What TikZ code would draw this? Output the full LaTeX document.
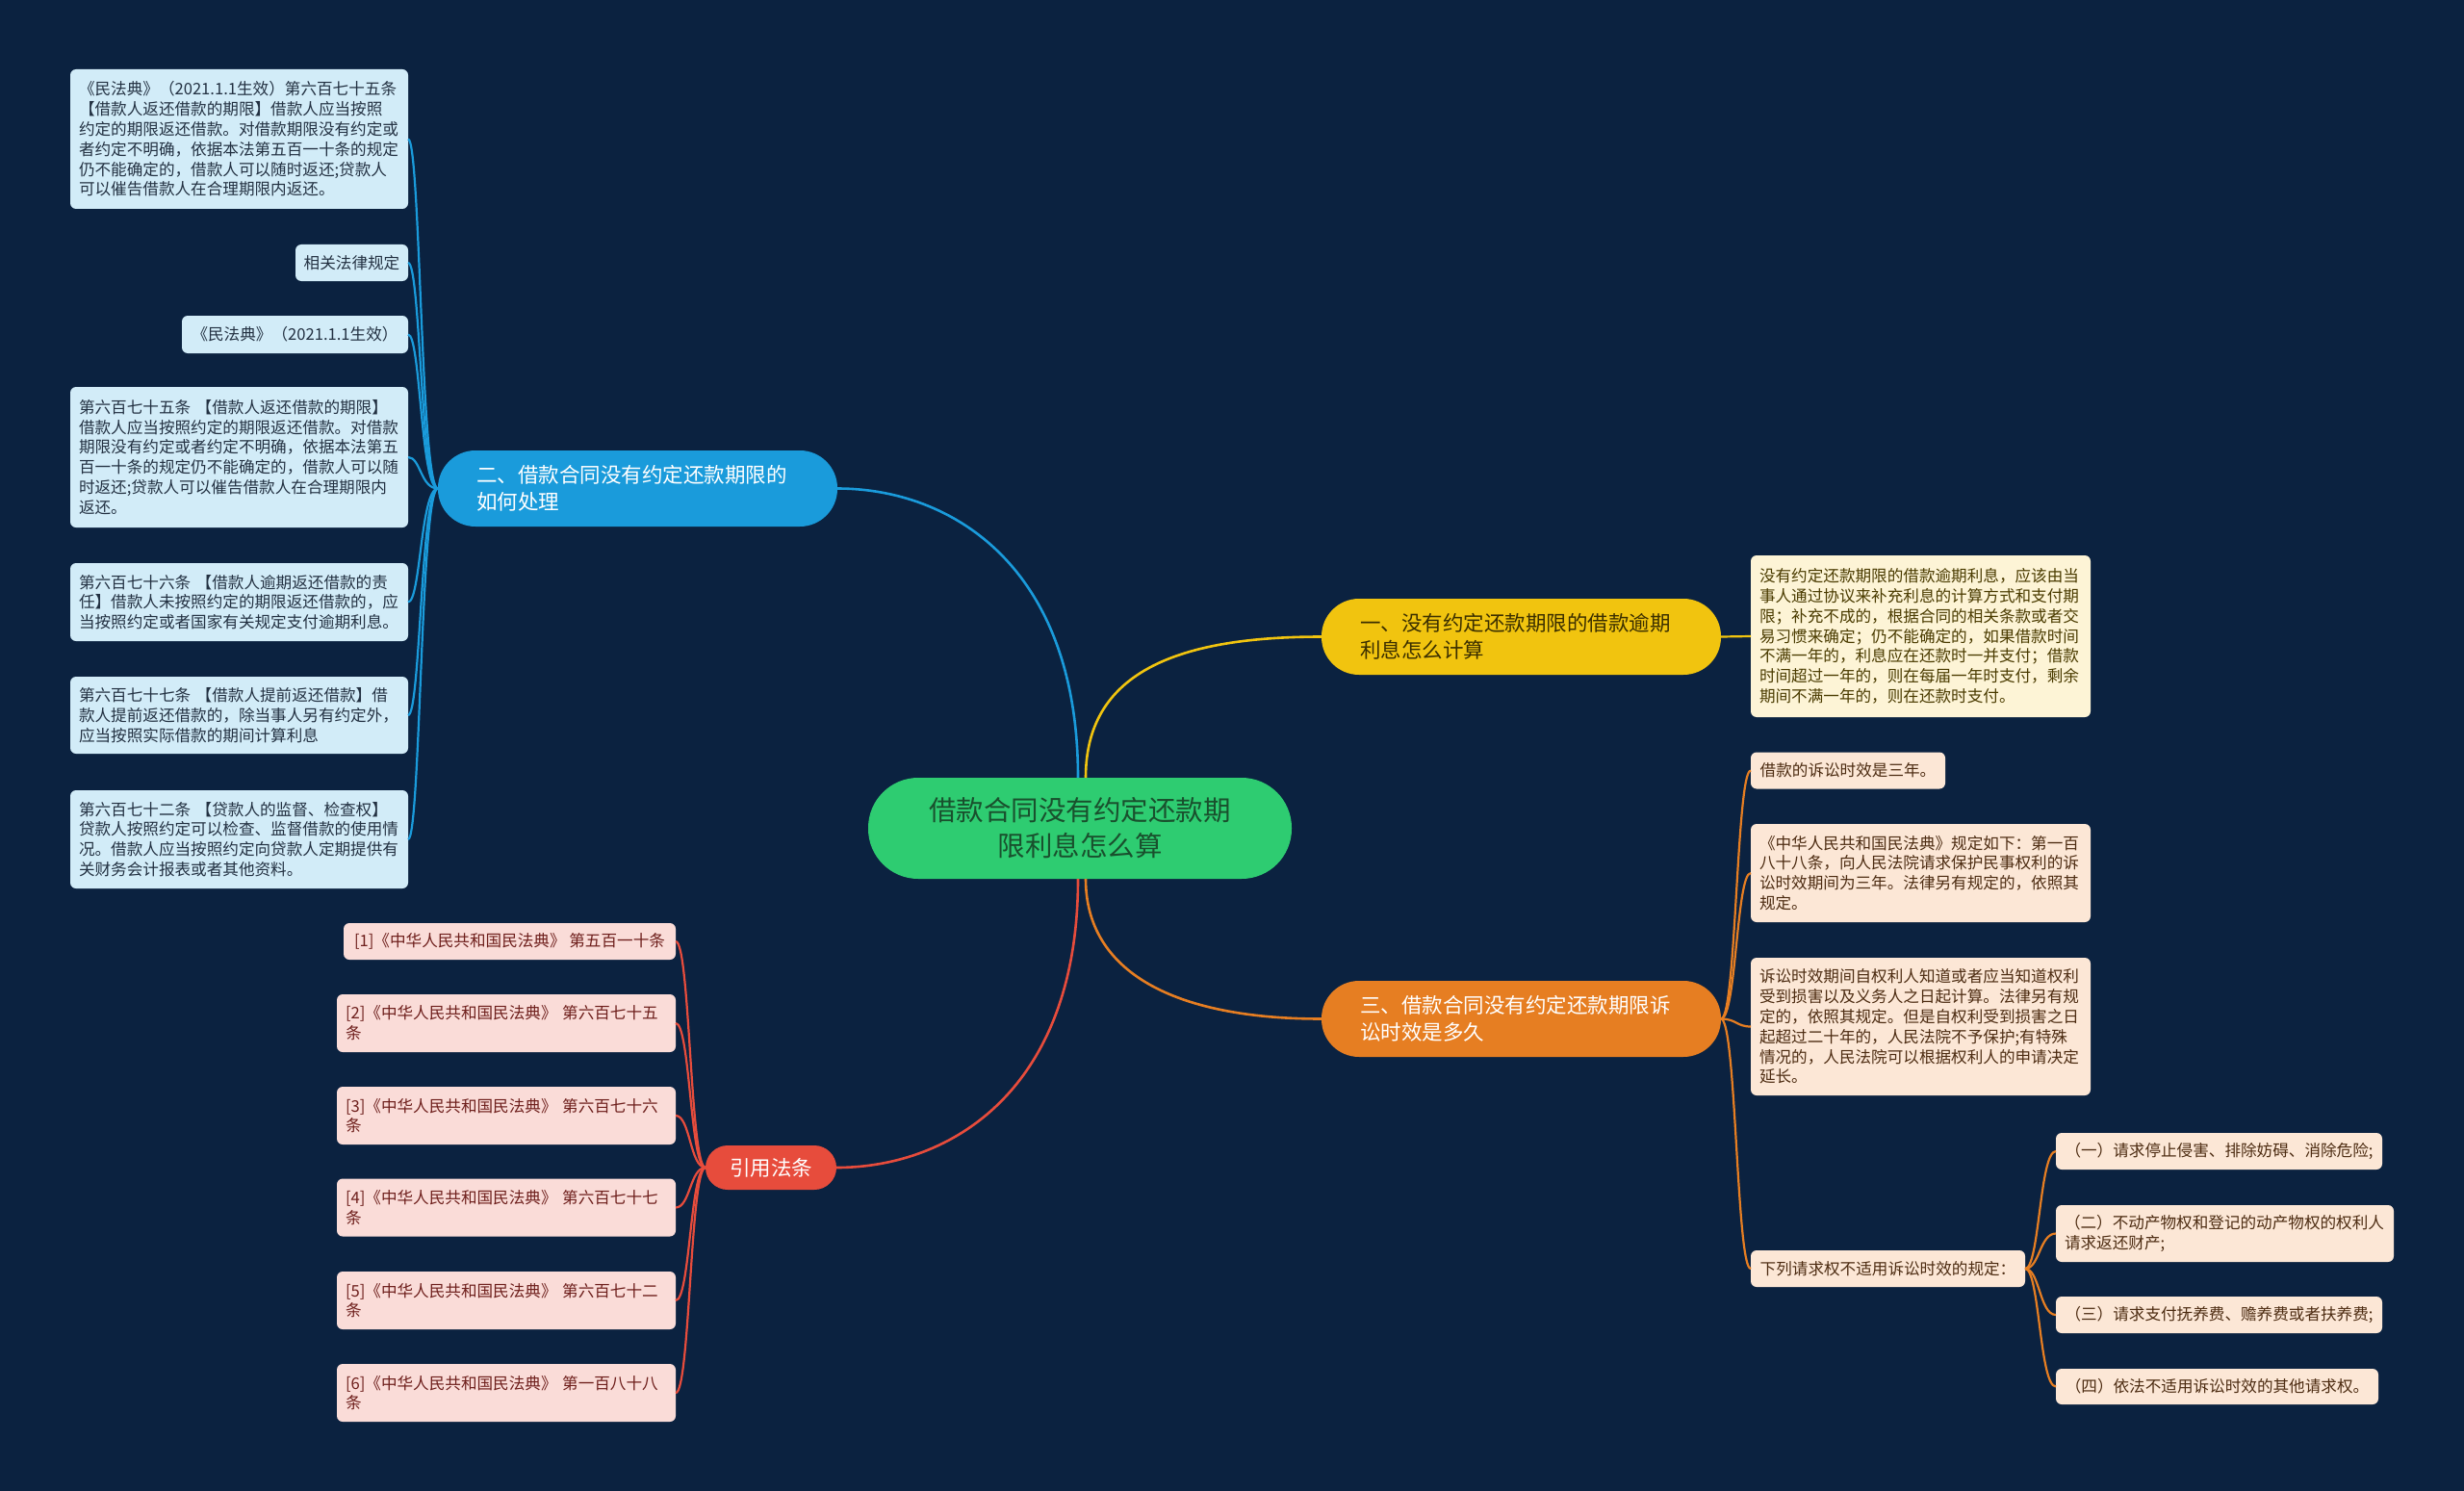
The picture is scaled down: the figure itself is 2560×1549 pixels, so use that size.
\documentclass[tikz,border=0pt]{standalone}
\usepackage{fontspec}
\setmainfont{Noto Sans CJK SC}
\definecolor{bg}{RGB}{11,34,64}
\definecolor{cblue}{RGB}{26,155,219}
\definecolor{cyellow}{RGB}{241,196,15}
\definecolor{corange}{RGB}{230,126,34}
\definecolor{cred}{RGB}{231,76,60}
\definecolor{cgreen}{RGB}{46,204,113}
\definecolor{tgreen}{RGB}{25,80,45}
\definecolor{lbfill}{RGB}{210,236,248}
\definecolor{lbtext}{RGB}{35,49,66}
\definecolor{lyfill}{RGB}{253,244,214}
\definecolor{lytext}{RGB}{74,59,0}
\definecolor{lofill}{RGB}{252,231,214}
\definecolor{lotext}{RGB}{77,44,18}
\definecolor{lrfill}{RGB}{250,220,216}
\definecolor{lrtext}{RGB}{110,31,28}
\definecolor{byt}{RGB}{59,47,0}
\tikzset{
  base/.style={inner sep=0pt, outer sep=0pt},
  leaffont/.style={font=\fontsize{16.6}{20.8}\selectfont},
  leafb/.style={base, leaffont, rounded corners=6pt, fill=lbfill, text=lbtext, align=left},
  leafy/.style={base, leaffont, rounded corners=6pt, fill=lyfill, text=lytext, align=left},
  leafo/.style={base, leaffont, rounded corners=6pt, fill=lofill, text=lotext, align=left},
  leafr/.style={base, leaffont, rounded corners=6pt, fill=lrfill, text=lrtext, align=left},
  branch/.style={base, font=\fontsize{21.5}{28}\selectfont, rounded corners=39pt, align=left,
                 minimum width=415pt, minimum height=79pt, text width=335pt},
  rootbox/.style={base, font=\fontsize{28.5}{37}\selectfont, rounded corners=52pt, fill=cgreen,
                 text=tgreen, align=center, minimum width=440pt, minimum height=105pt},
  mainline/.style={line width=2.6pt},
  subline/.style={line width=2.2pt},
}
\begin{document}
\begin{tikzpicture}[x=1pt,y=-1pt]
\fill[bg] (0,0) rectangle (2560,1549);
\useasboundingbox (0,0) rectangle (2560,1549);

% root
\node[rootbox] (root) at (1122,860.5) {借款合同没有约定还款期\\限利息怎么算};

% branches
\node[branch, fill=cblue, text=white] (b2) at (662.5,507.5) {二、借款合同没有约定还款期限的\\如何处理};
\node[branch, fill=cyellow, text=byt] (b1) at (1580.5,661.5) {一、没有约定还款期限的借款逾期\\利息怎么计算};
\node[branch, fill=corange, text=white] (b3) at (1580.5,1058.5) {三、借款合同没有约定还款期限诉\\讼时效是多久};
\node[base, font=\fontsize{21.5}{28}\selectfont, rounded corners=23pt, fill=cred, text=white,
      minimum width=136pt, minimum height=46pt] (b4) at (801,1213) {引用法条};

% blue leaves
\node[leafb, minimum width=351pt, minimum height=145pt, text width=333pt] (l1) at (248.5,144.5)
  {《民法典》（2021.1.1生效）第六百七十五条\\【借款人返还借款的期限】借款人应当按照\\约定的期限返还借款。对借款期限没有约定或\\者约定不明确，依据本法第五百一十条的规定\\仍不能确定的，借款人可以随时返还;贷款人\\可以催告借款人在合理期限内返还。};
\node[leafb, minimum width=117pt, minimum height=38pt] (l2) at (365.5,273) {相关法律规定};
\node[leafb, minimum width=235pt, minimum height=39pt] (l3) at (306.5,347.5) {《民法典》（2021.1.1生效）};
\node[leafb, minimum width=351pt, minimum height=146pt, text width=333pt] (l4) at (248.5,475)
  {第六百七十五条 【借款人返还借款的期限】\\借款人应当按照约定的期限返还借款。对借款\\期限没有约定或者约定不明确，依据本法第五\\百一十条的规定仍不能确定的，借款人可以随\\时返还;贷款人可以催告借款人在合理期限内\\返还。};
\node[leafb, minimum width=351pt, minimum height=81pt, text width=333pt] (l5) at (248.5,625.5)
  {第六百七十六条 【借款人逾期返还借款的责\\任】借款人未按照约定的期限返还借款的，应\\当按照约定或者国家有关规定支付逾期利息。};
\node[leafb, minimum width=351pt, minimum height=80pt, text width=333pt] (l6) at (248.5,743)
  {第六百七十七条 【借款人提前返还借款】借\\款人提前返还借款的，除当事人另有约定外，\\应当按照实际借款的期间计算利息};
\node[leafb, minimum width=351pt, minimum height=102pt, text width=333pt] (l7) at (248.5,872)
  {第六百七十二条 【贷款人的监督、检查权】\\贷款人按照约定可以检查、监督借款的使用情\\况。借款人应当按照约定向贷款人定期提供有\\关财务会计报表或者其他资料。};

% yellow leaf
\node[leafy, minimum width=353pt, minimum height=168pt, text width=335pt] (y1) at (1995.5,661)
  {没有约定还款期限的借款逾期利息，应该由当\\事人通过协议来补充利息的计算方式和支付期\\限；补充不成的，根据合同的相关条款或者交\\易习惯来确定；仍不能确定的，如果借款时间\\不满一年的，利息应在还款时一并支付；借款\\时间超过一年的，则在每届一年时支付，剩余\\期间不满一年的，则在还款时支付。};

% orange leaves
\node[leafo, minimum width=202pt, minimum height=38pt] (r1) at (1920,800.5) {借款的诉讼时效是三年。};
\node[leafo, minimum width=353pt, minimum height=102pt, text width=335pt] (r2) at (1995.5,907)
  {《中华人民共和国民法典》规定如下：第一百\\八十八条，向人民法院请求保护民事权利的诉\\讼时效期间为三年。法律另有规定的，依照其\\规定。};
\node[leafo, minimum width=353pt, minimum height=143pt, text width=335pt] (r3) at (1995.5,1066.5)
  {诉讼时效期间自权利人知道或者应当知道权利\\受到损害以及义务人之日起计算。法律另有规\\定的，依照其规定。但是自权利受到损害之日\\起超过二十年的，人民法院不予保护;有特殊\\情况的，人民法院可以根据权利人的申请决定\\延长。};
\node[leafo, minimum width=285pt, minimum height=38pt] (r4) at (1961.5,1318) {下列请求权不适用诉讼时效的规定：};
\node[leafo, minimum width=339pt, minimum height=38pt] (s1) at (2305.5,1196) {（一）请求停止侵害、排除妨碍、消除危险;};
\node[leafo, minimum width=351pt, minimum height=59pt, text width=333pt] (s2) at (2311.5,1281.5)
  {（二）不动产物权和登记的动产物权的权利人\\请求返还财产;};
\node[leafo, minimum width=339pt, minimum height=38pt] (s3) at (2305.5,1366) {（三）请求支付抚养费、赡养费或者扶养费;};
\node[leafo, minimum width=335pt, minimum height=37pt] (s4) at (2303.5,1440.5) {（四）依法不适用诉讼时效的其他请求权。};

% red leaves
\node[leafr, minimum width=345pt, minimum height=38pt] (c1) at (529.5,978) {[1]《中华人民共和国民法典》 第五百一十条};
\node[leafr, minimum width=352pt, minimum height=60pt, text width=334pt] (c2) at (526,1063) {[2]《中华人民共和国民法典》 第六百七十五\\条};
\node[leafr, minimum width=352pt, minimum height=60pt, text width=334pt] (c3) at (526,1159) {[3]《中华人民共和国民法典》 第六百七十六\\条};
\node[leafr, minimum width=352pt, minimum height=60pt, text width=334pt] (c4) at (526,1254.5) {[4]《中华人民共和国民法典》 第六百七十七\\条};
\node[leafr, minimum width=352pt, minimum height=60pt, text width=334pt] (c5) at (526,1351) {[5]《中华人民共和国民法典》 第六百七十二\\条};
\node[leafr, minimum width=352pt, minimum height=60pt, text width=334pt] (c6) at (526,1447) {[6]《中华人民共和国民法典》 第一百八十八\\条};

% trunk coordinates
\coordinate (tb) at (437,0);
\coordinate (to) at (1804,0);
\coordinate (ts) at (2119,0);
\coordinate (tr) at (717,0);

% root connectors
\draw[mainline, cblue] ([xshift=-2pt]root.north) .. controls (1120,590) and (990,507.5) .. (b2.east);
\draw[mainline, cyellow] ([xshift=6pt]root.north) .. controls (1128,700) and (1220,661.5) .. (b1.west);
\draw[mainline, corange] ([xshift=6pt]root.south) .. controls (1128,1010) and (1220,1058.5) .. (b3.west);
\draw[mainline, cred] ([xshift=-2pt]root.south) .. controls (1120,1130) and (990,1213) .. (b4.east);

% branch connectors
\foreach \n in {l1,l2,l3,l4,l5,l6,l7}
  \draw[subline, cblue] (b2.west) .. controls (b2.west -| tb) and (\n.east -| tb) .. (\n.east);
\draw[subline, cyellow] (b1.east) -- (y1.west);
\foreach \n in {r1,r2,r3,r4}
  \draw[subline, corange] (b3.east) .. controls (b3.east -| to) and (\n.west -| to) .. (\n.west);
\foreach \n in {s1,s2,s3,s4}
  \draw[subline, corange] (r4.east) .. controls (r4.east -| ts) and (\n.west -| ts) .. (\n.west);
\foreach \n in {c1,c2,c3,c4,c5,c6}
  \draw[subline, cred] (b4.west) .. controls (b4.west -| tr) and (\n.east -| tr) .. (\n.east);
\end{tikzpicture}
\end{document}
